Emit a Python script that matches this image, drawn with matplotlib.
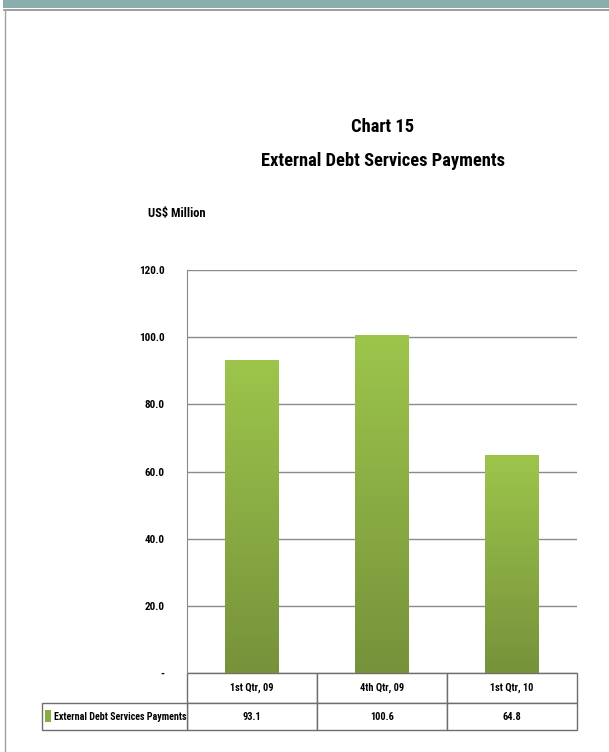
import matplotlib
matplotlib.use("Agg")
import matplotlib.pyplot as plt
from matplotlib.patches import Rectangle
from matplotlib.colors import LinearSegmentedColormap
import numpy as np

# data
categories = ["1st Qtr, 09", "4th Qtr, 09", "1st Qtr, 10"]
values = [93.1, 100.6, 64.8]
series_name = "External Debt Services Payments"
y_ticks = [0, 20, 40, 60, 80, 100, 120]
y_tick_labels = ["-", "20.0", "40.0", "60.0", "80.0", "100.0", "120.0"]

plt.rcParams['font.family'] = ['Roboto Condensed', 'Carlito', 'DejaVu Sans']
plt.rcParams['font.weight'] = 'bold'

fig = plt.figure(figsize=(6.09, 7.52), dpi=100)

# page frame: teal band on top, grey border
fig.patches.append(Rectangle((0.005, 1 - 8 / 752), 0.995, 8 / 752, transform=fig.transFigure,
                             facecolor="#8AAEAE", edgecolor="none"))
fig.add_artist(plt.Line2D([0.007, 1], [1 - 10 / 752, 1 - 10 / 752], color="#8c8c8c", lw=1.2))
fig.add_artist(plt.Line2D([0.0075, 0.0075], [0, 1 - 10 / 752], color="#a0a0a0", lw=1.0))

ax = fig.add_axes([187 / 609, 1 - 673 / 752, 390 / 609, 403 / 752])

gray = "#8a8a8a"
x = np.arange(len(categories))
bar_w = 0.41
cmap = LinearSegmentedColormap.from_list("g", ["#76923B", "#9DC54B"])
grad = np.linspace(0, 1, 256).reshape(-1, 1)
bars = ax.bar(x, values, width=bar_w, color="none", edgecolor="none", zorder=3)
for b in bars:
    x0, y0 = b.get_x(), b.get_y()
    im = ax.imshow(grad, cmap=cmap, origin="lower", aspect="auto",
                   extent=[x0, x0 + b.get_width(), y0, y0 + b.get_height()], zorder=3)
    im.set_clip_path(b)

ax.set_xlim(-0.5, len(categories) - 0.5)
ax.set_ylim(0, 120)
ax.set_yticks(y_ticks)
ax.set_yticklabels(y_tick_labels, fontsize=8, fontweight="bold")
ax.set_xticks([])
ax.tick_params(axis="y", length=0, pad=16)
ax.yaxis.grid(True, color=gray, lw=1)
ax.set_axisbelow(True)
for s in ["top", "right", "bottom"]:
    ax.spines[s].set_visible(False)
ax.spines["left"].set_color(gray)

# data table below the axes
h_row1 = 30 / 403
h_row2 = 27 / 403
lab_w = 145 / 390
n = len(categories)
tbl_kw = dict(transform=ax.transAxes, clip_on=False, edgecolor="#6e6e6e", facecolor="white", lw=1)
for i, cat in enumerate(categories):
    ax.add_patch(Rectangle((i / n, -h_row1), 1 / n, h_row1, **tbl_kw))
    ax.text((i + 0.5) / n, -h_row1 / 2, cat, transform=ax.transAxes,
            ha="center", va="center", fontsize=7.5)
    ax.add_patch(Rectangle((i / n, -h_row1 - h_row2), 1 / n, h_row2, **tbl_kw))
    ax.text((i + 0.5) / n, -h_row1 - h_row2 / 2, f"{values[i]:.1f}", transform=ax.transAxes,
            ha="center", va="center", fontsize=7.5)
ax.add_patch(Rectangle((-lab_w, -h_row1 - h_row2), lab_w, h_row2, **tbl_kw))
ax.add_patch(Rectangle((-lab_w + 0.008, -h_row1 - h_row2 * 0.72), 0.016, h_row2 * 0.45,
                       transform=ax.transAxes, clip_on=False, facecolor="#86AE3F", edgecolor="none"))
ax.text(-lab_w + 0.03, -h_row1 - h_row2 / 2, series_name, transform=ax.transAxes,
        ha="left", va="center", fontsize=7.2)

fig.text(383 / 609, 1 - 127 / 752, "Chart 15", ha="center", va="center", fontsize=13.3, fontweight="bold")
fig.text(383 / 609, 1 - 161 / 752, "External Debt Services Payments", ha="center", va="center",
         fontsize=13.3, fontweight="bold")
fig.text(148 / 609, 1 - 213 / 752, "US$ Million", ha="left", va="center", fontsize=9, fontweight="bold")

fig.savefig("out.png", dpi=100)
